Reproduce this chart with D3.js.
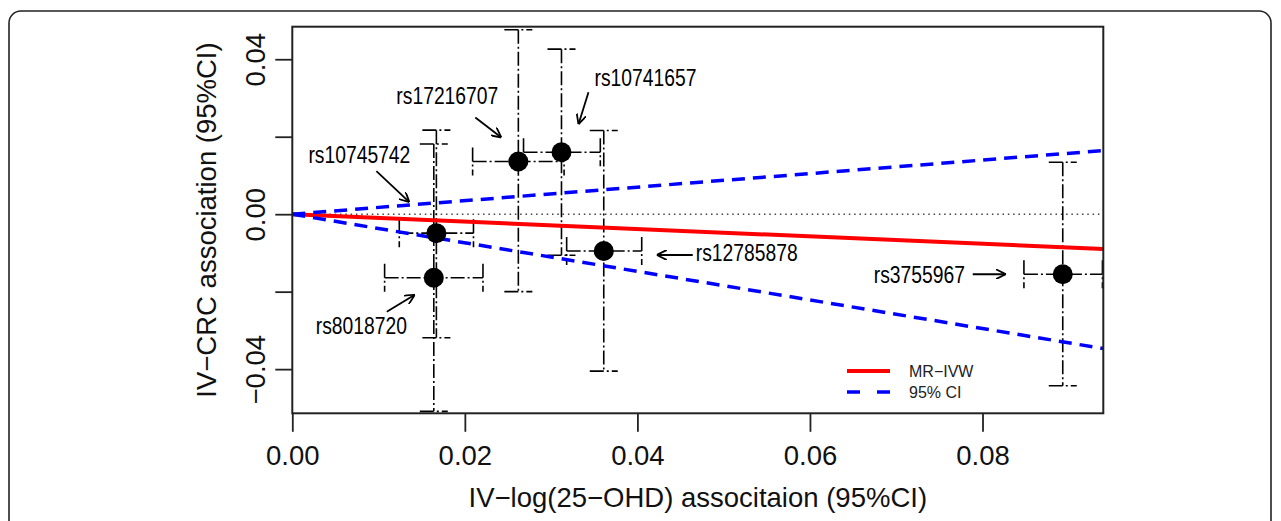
<!DOCTYPE html>
<html>
<head>
<meta charset="utf-8">
<script src="https://cdn.jsdelivr.net/npm/d3@7"></script>
<style>
  body { margin: 0; background: #fff; }
  svg { display: block; font-family: "Liberation Sans", Arial, sans-serif; }
</style>
</head>
<body>
<svg width="1281" height="521"></svg>
<script>
// SNP-level estimates
const snps   = ["rs10745742", "rs8018720", "rs17216707", "rs10741657", "rs12785878", "rs3755967"]
const bx     = [0.0167, 0.0164, 0.0262, 0.0312, 0.0361, 0.0893]
const bxLo   = [0.0124, 0.0107, 0.0209, 0.0268, 0.0318, 0.0848]
const bxHi   = [0.0210, 0.0221, 0.0315, 0.0357, 0.0405, 0.0939]
const by     = [-0.0049, -0.0164, 0.0136, 0.0160, -0.0095, -0.0155]
const byLo   = [-0.0319, -0.0509, -0.0200, -0.0106, -0.0405, -0.0443]
const byHi   = [0.0217, 0.0181, 0.0476, 0.0426, 0.0216, 0.0134]

// IVW slope and its 95% CI
const ivwSlope = -0.0955
const ciLower  = -0.369
const ciUpper  = 0.1747

const xTicks = [0, 0.02, 0.04, 0.06, 0.08]
const yTicks = [-0.04, -0.02, 0, 0.02, 0.04]
const yLabelled = [-0.04, 0, 0.04]

const legendNames = ["MR\u2212IVW", "95% CI"]

// label placement (pixel offsets from the point) and arrows
const notes = [
  { dx: -128, dy: -70, ax1: -60, ay1: -62, ax2: -27, ay2: -31 },
  { dx: -118, dy: 56, ax1: -47, ay1: 34, ax2: -19, ay2: 17 },
  { dx: -122, dy: -58, ax1: -43, ay1: -44, ax2: -17, ay2: -24 },
  { dx: 33, dy: -66, ax1: 27, ay1: -60, ax2: 17, ay2: -28 },
  { dx: 92, dy: 10, ax1: 89, ay1: 4, ax2: 53, ay2: 4 },
  { dx: -189, dy: 9, ax1: -90, ay1: 0, ax2: -57, ay2: 0 }
]

const svg = d3.select("svg")
const margin = { left: 292.3, right: 1103.3, top: 26.7, bottom: 413.3 }

const x = d3.scaleLinear().domain([0, 0.094]).range([margin.left, margin.right])
const y = d3.scaleLinear().domain([-0.0514, 0.0484]).range([margin.bottom, margin.top])

// outer frame
svg.append("rect")
  .attr("x", 9).attr("y", 11)
  .attr("width", 1262).attr("height", 540)
  .attr("rx", 12)
  .attr("fill", "none").attr("stroke", "#222").attr("stroke-width", 1.6)

const defs = svg.append("defs")
defs.append("clipPath").attr("id", "plotclip")
  .append("rect")
  .attr("x", margin.left).attr("y", margin.top)
  .attr("width", margin.right - margin.left).attr("height", margin.bottom - margin.top)

defs.append("marker")
  .attr("id", "arrowhead")
  .attr("viewBox", "0 0 10 10")
  .attr("refX", 10).attr("refY", 5)
  .attr("markerWidth", 10).attr("markerHeight", 10)
  .attr("markerUnits", "userSpaceOnUse")
  .attr("orient", "auto")
  .append("path")
  .attr("d", "M0,0 L10,5 L0,10")
  .attr("fill", "none").attr("stroke", "#000").attr("stroke-width", 1.8)

const plot = svg.append("g").attr("clip-path", "url(#plotclip)")

// zero line
plot.append("line")
  .attr("x1", x(0)).attr("x2", x(0.094))
  .attr("y1", y(0)).attr("y2", y(0))
  .attr("stroke", "#444").attr("stroke-width", 1.4)
  .attr("stroke-dasharray", "1.5,3.8")

// error bars
const errDash = "14,3,2,3"
const cap = 14
const eb = plot.append("g")
  .attr("stroke", "#000").attr("stroke-width", 1.6)
  .attr("fill", "none").attr("stroke-dasharray", errDash)

snps.forEach((s, i) => {
  // vertical bar with caps
  eb.append("line").attr("x1", x(bx[i])).attr("x2", x(bx[i]))
    .attr("y1", y(byHi[i])).attr("y2", y(byLo[i]))
  eb.append("line").attr("x1", x(bx[i]) - cap).attr("x2", x(bx[i]) + cap)
    .attr("y1", y(byHi[i])).attr("y2", y(byHi[i]))
  eb.append("line").attr("x1", x(bx[i]) - cap).attr("x2", x(bx[i]) + cap)
    .attr("y1", y(byLo[i])).attr("y2", y(byLo[i]))
  // horizontal bar with caps
  eb.append("line").attr("x1", x(bxLo[i])).attr("x2", x(bxHi[i]))
    .attr("y1", y(by[i])).attr("y2", y(by[i]))
  eb.append("line").attr("x1", x(bxLo[i])).attr("x2", x(bxLo[i]))
    .attr("y1", y(by[i]) - cap).attr("y2", y(by[i]) + cap)
  eb.append("line").attr("x1", x(bxHi[i])).attr("x2", x(bxHi[i]))
    .attr("y1", y(by[i]) - cap).attr("y2", y(by[i]) + cap)
})

// IVW line and CI lines
const xEnd = 0.094
plot.append("line")
  .attr("x1", x(0)).attr("y1", y(0))
  .attr("x2", x(xEnd)).attr("y2", y(ivwSlope * xEnd))
  .attr("stroke", "#ff0000").attr("stroke-width", 4)
;[ciUpper, ciLower].forEach(b => {
  plot.append("line")
    .attr("x1", x(0)).attr("y1", y(0))
    .attr("x2", x(xEnd)).attr("y2", y(b * xEnd))
    .attr("stroke", "#0000ff").attr("stroke-width", 3.5)
    .attr("stroke-dasharray", "13,8")
})

// points
plot.selectAll("circle.pt")
  .data(snps)
  .enter().append("circle")
  .attr("class", "pt")
  .attr("cx", (d, i) => x(bx[i]))
  .attr("cy", (d, i) => y(by[i]))
  .attr("r", 10)
  .attr("fill", "#000")

// box
svg.append("rect")
  .attr("x", margin.left).attr("y", margin.top)
  .attr("width", margin.right - margin.left).attr("height", margin.bottom - margin.top)
  .attr("fill", "none").attr("stroke", "#222").attr("stroke-width", 2)

// axes
const xAxis = svg.append("g")
  .attr("transform", `translate(0,${margin.bottom})`)
  .call(d3.axisBottom(x).tickValues(xTicks).tickSize(18.5).tickPadding(12).tickFormat(d3.format(".2f")))
xAxis.select(".domain").remove()
xAxis.selectAll("line").attr("stroke", "#222").attr("stroke-width", 1.8)
xAxis.selectAll("text")
  .attr("font-size", 27.5).attr("fill", "#111")
  .attr("font-family", "Liberation Sans, Arial, sans-serif")
  .attr("dy", null).attr("y", 52)

const yAxis = svg.append("g")
  .attr("transform", `translate(${margin.left},0)`)
  .call(d3.axisLeft(y).tickValues(yTicks).tickSize(17).tickFormat(d => yLabelled.some(v => Math.abs(v - d) < 1e-9) ? d3.format(".2f")(d).replace("-", "\u2212") : ""))
yAxis.select(".domain").remove()
yAxis.selectAll("line").attr("stroke", "#222").attr("stroke-width", 1.8)
yAxis.selectAll("text")
  .attr("font-size", 27.5).attr("fill", "#111")
  .attr("font-family", "Liberation Sans, Arial, sans-serif")
  .attr("x", null).attr("dy", null)
  .attr("text-anchor", "middle")
  .attr("transform", "translate(-27,0) rotate(-90)")

// axis titles
svg.append("text")
  .attr("x", (margin.left + margin.right) / 2).attr("y", 507)
  .attr("text-anchor", "middle").attr("font-size", 27.5).attr("fill", "#111")
  .text("IV\u2212log(25\u2212OHD) associtaion (95%CI)")

svg.append("text")
  .attr("transform", `translate(216,${(margin.top + margin.bottom) / 2}) rotate(-90)`)
  .attr("text-anchor", "middle").attr("font-size", 27.5).attr("fill", "#111")
  .text("IV\u2212CRC association (95%CI)")

// annotations
const ann = svg.append("g")
snps.forEach((s, i) => {
  const px = x(bx[i]), py = y(by[i]), n = notes[i]
  ann.append("text")
    .attr("transform", `translate(${px + n.dx},${py + n.dy}) scale(0.84,1)`)
    .attr("font-size", 23).attr("fill", "#000")
    .text(s)
  ann.append("line")
    .attr("x1", px + n.ax1).attr("y1", py + n.ay1)
    .attr("x2", px + n.ax2).attr("y2", py + n.ay2)
    .attr("stroke", "#000").attr("stroke-width", 1.8)
    .attr("marker-end", "url(#arrowhead)")
})

// legend
const leg = svg.append("g").attr("transform", "translate(847,371)")
leg.append("line").attr("x1", 0).attr("x2", 43).attr("y1", 0).attr("y2", 0)
  .attr("stroke", "#ff0000").attr("stroke-width", 4)
leg.append("line").attr("x1", 0).attr("x2", 43).attr("y1", 21).attr("y2", 21)
  .attr("stroke", "#0000ff").attr("stroke-width", 3.5).attr("stroke-dasharray", "13,17")
leg.selectAll("text.lg")
  .data(legendNames)
  .enter().append("text")
  .attr("class", "lg")
  .attr("x", 62).attr("y", (d, i) => i * 21 + 6)
  .attr("font-size", 16).attr("fill", "#222")
  .text(d => d)
</script>
</body>
</html>
